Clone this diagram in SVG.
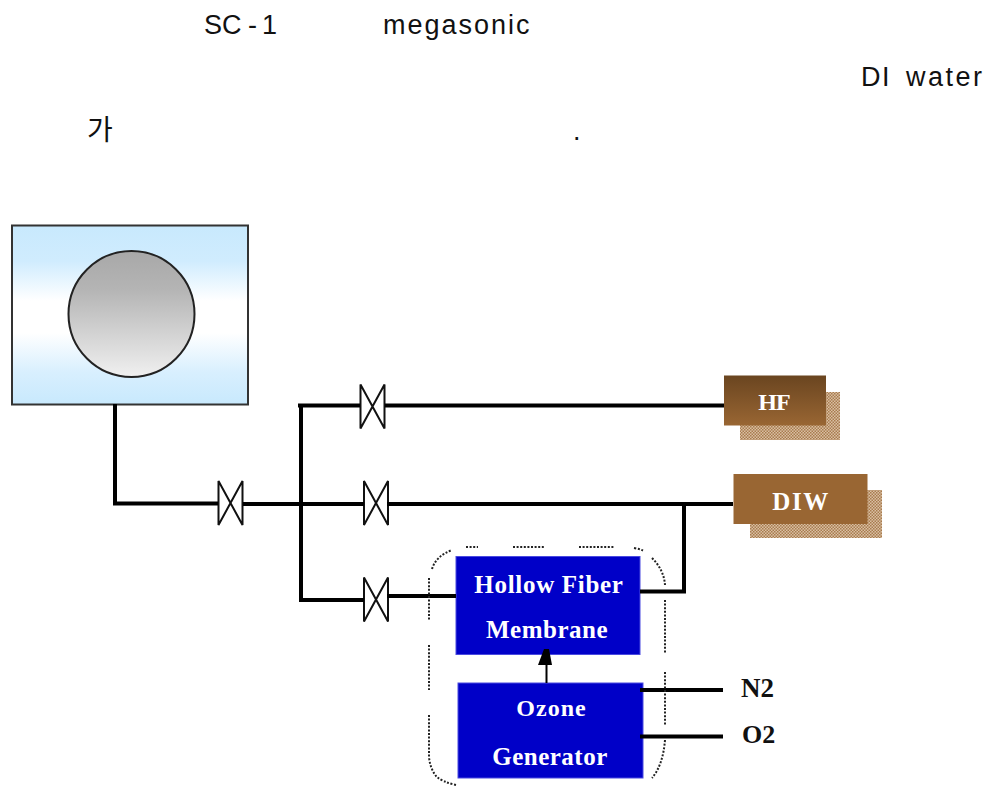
<svg xmlns="http://www.w3.org/2000/svg" width="991" height="787" viewBox="0 0 991 787">
<style>
.t{font-family:"Liberation Sans",Arial,"Noto Sans CJK KR",sans-serif;font-size:27px;fill:#111}
.s{font-family:"Liberation Serif","Times New Roman",serif;font-weight:bold;fill:#fff;text-anchor:middle;font-size:25px}
.l{font-family:"Liberation Serif","Times New Roman",serif;font-weight:bold;fill:#111;font-size:27px}
.p{fill:none;stroke:#000;stroke-width:4}
.v{fill:#fff;stroke:#111;stroke-width:2}
.d{fill:none;stroke:#222;stroke-width:2;stroke-dasharray:2 1.6}
.b{fill:#0000c8;stroke:#4a4ae0;stroke-width:1}
</style>
<defs>
<linearGradient id="g1" x1="0" y1="0" x2="0" y2="1"><stop offset="0" stop-color="#c8e9fd"/><stop offset=".2" stop-color="#d0ecfe"/><stop offset=".42" stop-color="#fff"/><stop offset=".6" stop-color="#fff"/><stop offset=".82" stop-color="#d8effe"/><stop offset="1" stop-color="#c8e9fd"/></linearGradient>
<linearGradient id="g2" x1="0" y1="0" x2="0" y2="1"><stop offset="0" stop-color="#a8a8a8"/><stop offset=".3" stop-color="#b4b4b4"/><stop offset="1" stop-color="#f0f0f0"/></linearGradient>
<linearGradient id="g3" x1="0" y1="0" x2="0" y2="1"><stop offset="0" stop-color="#6a4520"/><stop offset="1" stop-color="#996633"/></linearGradient>
<pattern id="h" width="3" height="3" patternUnits="userSpaceOnUse"><rect width="3" height="3" fill="#d9c0a3"/><rect width="1.5" height="1.5" fill="#a87b4e"/><rect x="1.5" y="1.5" width="1.5" height="1.5" fill="#a87b4e"/></pattern>
<symbol id="valve" overflow="visible"><path class="v" d="M0 0L0 44L24 0L24 44Z"/></symbol>
</defs>
<g id="text">
<text class="t" x="204 222 248 262" y="34">SC-1</text>
<text class="t" x="383" y="34" letter-spacing="2">megasonic</text>
<text class="t" y="86"><tspan x="861" letter-spacing="1.500">DI</tspan> <tspan x="906" letter-spacing="2.500">water</tspan></text>
<text class="t" x="87" y="140" style="font-size:28px">가</text>
<text class="t" x="573" y="140">.</text>
</g>
<g id="chamber"><rect x="12" y="225.500" width="236" height="179" fill="url(#g1)" stroke="#333" stroke-width="2"/><circle cx="131.500" cy="314" r="63" fill="url(#g2)" stroke="#222" stroke-width="2"/></g>
<g id="valve1"><use href="#valve" x="218.500" y="481"/></g>
<g id="valve2"><use href="#valve" x="360.500" y="384.500"/></g>
<g id="valve3"><use href="#valve" x="364" y="481"/></g>
<g id="valve4"><use href="#valve" x="364" y="577.500"/></g>
<g id="hf-membrane"><rect class="b" x="456" y="556.500" width="184" height="98"/><text class="s" x="549" y="592.500" letter-spacing=".7">Hollow Fiber</text><text class="s" x="547" y="638" letter-spacing=".5">Membrane</text></g>
<g id="ozone"><rect class="b" x="458" y="683" width="185" height="95"/><text class="s" x="551.500" y="716" letter-spacing="1" style="font-size:24px">Ozone</text><text class="s" x="550" y="765" letter-spacing=".5">Generator</text></g>
<g id="hf"><rect x="740" y="392" width="100" height="48" fill="url(#h)"/><rect x="724" y="375.500" width="102" height="50" fill="url(#g3)"/><text class="s" x="774" y="410" letter-spacing="-1" style="font-size:24px">HF</text></g>
<g id="diw"><rect x="750" y="490" width="132" height="48" fill="url(#h)"/><rect x="733.500" y="474" width="134" height="50" fill="#996633"/><text class="s" x="801" y="510" letter-spacing="1.500">DIW</text></g>
<g id="n2"><text class="l" x="741" y="697" style="font-size:27px">N2</text></g>
<g id="o2"><text class="l" x="742" y="743" style="font-size:26px">O2</text></g>
<g id="connectors">
<path class="p" d="M115 404V503.500H218M243 504H364M387 504H733"/>
<path class="p" d="M298 405.500H360M385 405.500H724M301 405V600H364M387 596H456"/>
<path class="p" d="M640 591.500H684V504"/>
<path class="p" d="M640 690H723M640 736.500H723"/>
<path d="M546.500 683V660" fill="none" stroke="#000" stroke-width="2"/>
<path d="M538 665L544 649H549L552 665Z" fill="#000"/>
</g>
<g id="enclosure">
<path class="d" d="M432 569Q436 556 452 550M466 547H478M513 547H544M579 547H615M634 548Q640 549 644 551M652 558Q664 570 665 585M665 600V654M665 672V725M665 740Q663 765 652 778M429 578V620M429 645V690M429 715V757Q430 768 436 776Q442 782 456 785"/>
</g>
</svg>
